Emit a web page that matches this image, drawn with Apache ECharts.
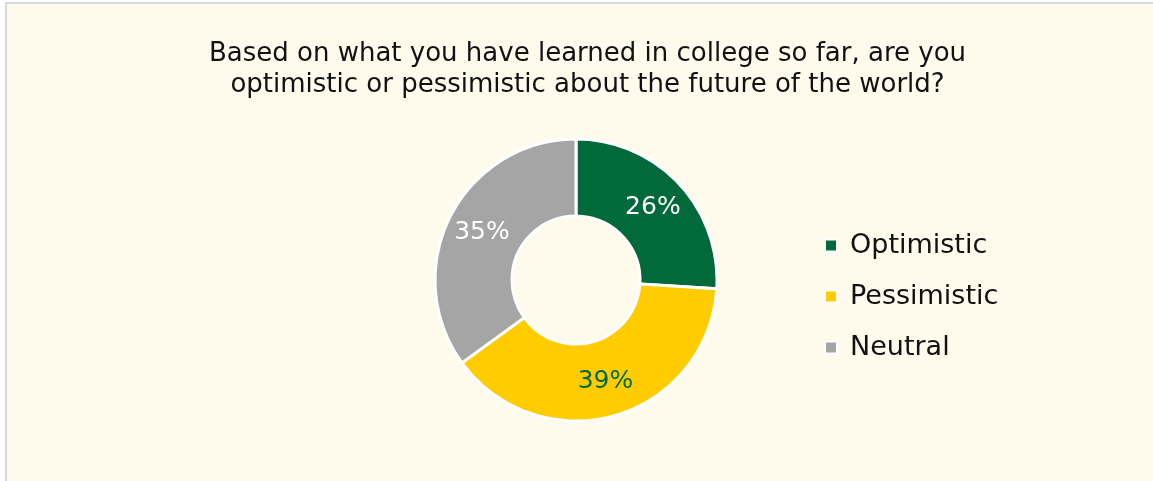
<!DOCTYPE html>
<html>
<head>
<meta charset="utf-8">
<script src="https://cdn.jsdelivr.net/npm/echarts@6/dist/echarts.min.js"></script>
<style>
  html, body { margin: 0; padding: 0; background: #ffffff; overflow: hidden; }
  #box {
    position: absolute; left: 5px; top: 2px; width: 1170px; height: 500px;
    border: 2px solid #d9d9d9; background: #fefaec;
  }
  #chart { position: absolute; left: 0; top: 0; width: 1175px; height: 481px; }
</style>
</head>
<body>
<div id="box"></div>
<div id="chart"></div>
<script>
const titleText = "Based on what you have learned in college so far, are you\noptimistic or pessimistic about the future of the world?";
const categories = ["Optimistic", "Pessimistic", "Neutral"];
const shares = [26, 39, 35];
const colors = ["#02693a", "#ffcc00", "#a5a5a5"];
const labelColors = ["#ffffff", "#02693a", "#ffffff"];

const fontName = "DejaVu Sans";

let chart = echarts.init(document.getElementById("chart"));

let option = {
  backgroundColor: "transparent",
  title: {
    left: "center",
    top: 34,
    text: titleText,
    textStyle: {
      fontFamily: fontName,
      fontSize: 26,
      fontWeight: "normal",
      color: "#111111",
      lineHeight: 31
    }
  },
  legend: {
    orient: "vertical",
    left: 819,
    top: 227,
    icon: "rect",
    itemWidth: 12,
    itemHeight: 12,
    itemGap: 24,
    data: categories,
    itemStyle: {
      borderColor: "#ffffff",
      borderWidth: 2
    },
    textStyle: {
      fontFamily: fontName,
      fontSize: 27,
      color: "#111111",
      padding: [0, 0, 0, 8]
    }
  },
  series: [
    {
      name: "Outlook",
      type: "pie",
      center: [576, 280],
      radius: [64, 141],
      startAngle: 90,
      clockwise: true,
      avoidLabelOverlap: false,
      itemStyle: {
        borderColor: "#ffffff",
        borderWidth: 3
      },
      label: {
        show: true,
        position: "inside",
        formatter: "{c}%",
        fontFamily: fontName,
        fontSize: 25
      },
      labelLine: { show: false },
      emphasis: { disabled: true },
      data: []
    }
  ]
};

categories.forEach((name, i) => {
  option.series[0].data.push({
    name: name,
    value: shares[i],
    itemStyle: { color: colors[i] },
    label: { color: labelColors[i] }
  });
});

chart.setOption(option);
</script>
</body>
</html>
